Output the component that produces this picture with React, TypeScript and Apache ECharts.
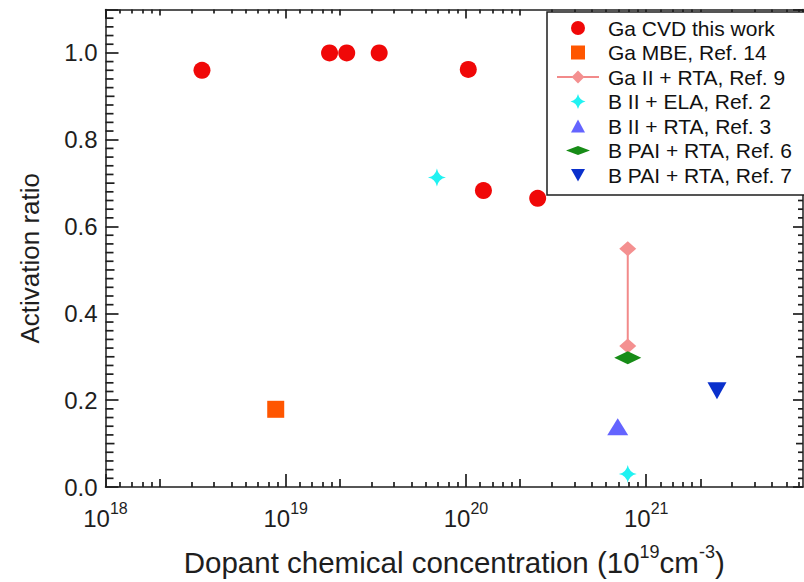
import React, { useEffect, useRef } from "react";
import * as echarts from "echarts";

// Ga CVD (this work)
const gaCvdX = [3.43e18, 1.75e19, 2.18e19, 3.3e19, 1.03e20, 1.25e20, 2.5e20];
const gaCvdY = [0.96, 1.0, 1.0, 1.0, 0.962, 0.683, 0.665];
// Ga MBE, Ref. 14
const gaMbeX = [8.8e18];
const gaMbeY = [0.179];
// Ga II + RTA, Ref. 9 (range)
const gaIiX = [7.9e20, 7.9e20];
const gaIiY = [0.549, 0.325];
// B II + ELA, Ref. 2
const bElaX = [6.9e19, 7.9e20];
const bElaY = [0.713, 0.03];
// B II + RTA, Ref. 3
const bIiRtaX = [6.95e20];
const bIiRtaY = [0.139];
// B PAI + RTA, Ref. 6
const bPai6X = [7.9e20];
const bPai6Y = [0.298];
// B PAI + RTA, Ref. 7
const bPai7X = [2.47e21];
const bPai7Y = [0.222];

const seriesNames = [
  "Ga CVD this work",
  "Ga MBE, Ref. 14",
  "Ga II + RTA, Ref. 9",
  "B II + ELA, Ref. 2",
  "B II + RTA, Ref. 3",
  "B PAI + RTA, Ref. 6",
  "B PAI + RTA, Ref. 7",
];

// axis ranges
const LOG_MIN = 18;
const LOG_MAX = 21.87;
const X_MIN = Math.pow(10, LOG_MIN);
const X_MAX = Math.pow(10, LOG_MAX);
const Y_MIN = 0;
const Y_MAX = 1.1;
const decades = [18, 19, 20, 21];
const minorMultipliers = [1.2, 1.4, 1.6, 1.8, 3, 4, 5, 6, 7, 8, 9];
const midMultipliers = [2];
// secondary marks on the vertical frame
const yMidTicks = [0.1, 0.3, 0.5, 0.7, 0.9];
const yMinorTicks = [
  0.02, 0.04, 0.06, 0.08, 0.12, 0.14, 0.16, 0.18, 0.22, 0.24, 0.26, 0.28,
  0.32, 0.34, 0.36, 0.38, 0.42, 0.44, 0.46, 0.48, 0.52, 0.54, 0.56, 0.58,
  0.62, 0.64, 0.66, 0.68, 0.72, 0.74, 0.76, 0.78, 0.82, 0.84, 0.86, 0.88,
  0.92, 0.94, 0.96, 0.98, 1.02, 1.04, 1.06, 1.08,
];

const FONT = "'Liberation Sans', Arial, Helvetica, sans-serif";
const INK = "#1e1e1e";

const pair = (xs: number[], ys: number[]) => xs.map((x, i) => [x, ys[i]]);

const logTicks = (mults: number[]) => {
  const out: number[] = [];
  decades.forEach((d) => {
    mults.forEach((m) => {
      const v = d + Math.log10(m);
      if (v < LOG_MAX) out.push(v);
    });
  });
  return out;
};

const STAR =
  "path://M10,0 Q11.6,8.4 20,10 Q11.6,11.6 10,20 Q8.4,11.6 0,10 Q8.4,8.4 10,0 Z";

// legend icons, laid out in a 42x16 box
const BOX = "M0,0 M42,16 ";
const iconCircle = "path://" + BOX + "M14,8 A7,7 0 1 1 28,8 A7,7 0 1 1 14,8 Z";
const iconSquare = "path://" + BOX + "M14,1 L28,1 L28,15 L14,15 Z";
const iconStar =
  "path://" + BOX + "M21,0.5 Q22.4,6.6 28.5,8 Q22.4,9.4 21,15.5 Q19.6,9.4 13.5,8 Q19.6,6.6 21,0.5 Z";
const iconUp = "path://" + BOX + "M21,1.5 L28,14.5 L14,14.5 Z";
const iconFlat = "path://" + BOX + "M9,8 L21,3.5 L33,8 L21,12.5 Z";
const iconDown = "path://" + BOX + "M14,2 L28,2 L21,14.5 Z";

const TICK_W = 1.7;
const tickLine = { color: INK, width: TICK_W };

// tick-only x axis in log10 units for the minor marks between decades
function decorX(position: string, values: number[], length: number) {
  return {
    type: "value",
    position,
    min: LOG_MIN,
    max: LOG_MAX,
    axisLine: { show: false, onZero: false },
    axisLabel: { show: false },
    splitLine: { show: false },
    axisTick: { show: true, inside: true, length, customValues: values, lineStyle: tickLine },
  };
}

export default function App() {
  const ref = useRef<HTMLDivElement>(null);

  useEffect(() => {
    if (!ref.current) return;
    const chart = echarts.init(ref.current, undefined, { renderer: "svg" });

    const xMinor = logTicks(minorMultipliers);
    const xMid = logTicks(midMultipliers);

    // [frame x, y, tick length, isRight] for the inward marks on both vertical frames
    const yTickRows: number[][] = [];
    [
      { vals: yMidTicks, left: 9, right: 7 },
      { vals: yMinorTicks, left: 8, right: 5 },
    ].forEach(({ vals, left, right }) => {
      vals.forEach((v) => {
        yTickRows.push([X_MIN * 1.0001, v, left, 0]);
        yTickRows.push([X_MAX, v, right, 1]);
      });
    });

    const option: any = {
      animation: false,
      backgroundColor: "#ffffff",
      textStyle: { fontFamily: FONT },
      grid: { left: 105.5, right: 1, top: 9.5, bottom: 94, containLabel: false },
      legend: {
        orient: "vertical",
        left: 547,
        top: 12,
        padding: [5.5, 14, 9.5, 9],
        itemWidth: 42,
        itemHeight: 16,
        itemGap: 3.5,
        backgroundColor: "#ffffff",
        borderColor: INK,
        borderWidth: 1.5,
        borderRadius: 0,
        z: 10,
        textStyle: { fontFamily: FONT, fontSize: 21, lineHeight: 21, color: "#111", padding: [0, 0, 0, 4] },
        data: [
          { name: seriesNames[0], icon: iconCircle },
          { name: seriesNames[1], icon: iconSquare },
          { name: seriesNames[2] },
          { name: seriesNames[3], icon: iconStar },
          { name: seriesNames[4], icon: iconUp },
          { name: seriesNames[5], icon: iconFlat },
          { name: seriesNames[6], icon: iconDown },
        ],
      },
      xAxis: [
        {
          type: "log",
          position: "bottom",
          min: X_MIN,
          max: X_MAX,
          logBase: 10,
          axisLine: { show: true, onZero: false, lineStyle: { color: INK, width: 1.5 } },
          axisTick: { show: true, inside: true, length: 13, lineStyle: tickLine },
          minorTick: { show: false },
          splitLine: { show: false },
          axisLabel: {
            margin: 13,
            showMaxLabel: false,
            formatter: (v: number) => {
              const l = Math.log10(v);
              const e = Math.round(l);
              if (Math.abs(l - e) > 1e-6) return "";
              return `{b|10}{s|${e}}`;
            },
            rich: {
              b: { fontFamily: FONT, fontSize: 24, color: INK, lineHeight: 30, verticalAlign: "bottom" },
              s: { fontFamily: FONT, fontSize: 16, color: INK, lineHeight: 16, verticalAlign: "top" },
            },
          },
          name: "{t|Dopant chemical concentration (10}{s|19}{t|cm}{s|-3}{t|)}",
          nameLocation: "middle",
          nameGap: 56,
          nameTextStyle: {
            rich: {
              t: { fontFamily: FONT, fontSize: 29.5, color: INK, lineHeight: 34, verticalAlign: "bottom" },
              s: { fontFamily: FONT, fontSize: 18, color: INK, lineHeight: 18, verticalAlign: "top" },
            },
          },
        },
        decorX("bottom", xMinor, 5),
        decorX("bottom", xMid, 8),
        {
          type: "log",
          position: "top",
          min: X_MIN,
          max: X_MAX,
          logBase: 10,
          axisLine: { show: true, onZero: false, lineStyle: { color: INK, width: 1.5 } },
          axisTick: { show: true, inside: true, length: 9, lineStyle: tickLine },
          axisLabel: { show: false },
          splitLine: { show: false },
        },
        decorX("top", xMinor, 4),
        decorX("top", xMid, 6),
      ],
      yAxis: [
        {
          type: "value",
          position: "left",
          min: Y_MIN,
          max: Y_MAX,
          interval: 0.2,
          axisLine: { show: true, onZero: false, lineStyle: { color: INK, width: 1.5 } },
          axisTick: { show: true, inside: true, length: 13, lineStyle: tickLine },
          splitLine: { show: false },
          axisLabel: {
            margin: 8,
            fontFamily: FONT,
            fontSize: 24,
            color: INK,
            formatter: (v: number) => (v > 1.05 ? "" : v.toFixed(1)),
          },
          name: "Activation ratio",
          nameLocation: "middle",
          nameGap: 63,
          nameRotate: 90,
          nameTextStyle: { fontFamily: FONT, fontSize: 26, color: INK, padding: [0, 20, 0, 0] },
        },
        {
          type: "value",
          position: "right",
          min: Y_MIN,
          max: Y_MAX,
          interval: 0.2,
          axisLine: { show: true, onZero: false, lineStyle: { color: INK, width: 1.5 } },
          axisTick: { show: true, inside: true, length: 10, lineStyle: tickLine },
          axisLabel: { show: false },
          splitLine: { show: false },
        },
      ],
      series: [
        {
          name: "frame ticks",
          type: "custom",
          xAxisIndex: 0,
          yAxisIndex: 0,
          silent: true,
          clip: false,
          z: 1,
          data: yTickRows,
          renderItem: (params: any, api: any) => {
            const p = api.coord([api.value(0), api.value(1)]);
            const len = api.value(2);
            const isRight = api.value(3) > 0.5;
            const x0 = isRight ? p[0] : params.coordSys.x;
            return {
              type: "line",
              shape: { x1: x0, y1: p[1], x2: isRight ? x0 - len : x0 + len, y2: p[1] },
              style: { stroke: INK, lineWidth: TICK_W },
            };
          },
        },
        {
          name: seriesNames[0],
          type: "scatter",
          symbol: "circle",
          symbolSize: 17,
          itemStyle: { color: "#f00808", opacity: 1 },
          data: pair(gaCvdX, gaCvdY),
          z: 3,
        },
        {
          name: seriesNames[1],
          type: "scatter",
          symbol: "rect",
          symbolSize: 17,
          itemStyle: { color: "#ff5600", opacity: 1 },
          data: pair(gaMbeX, gaMbeY),
        },
        {
          name: seriesNames[2],
          type: "line",
          symbol: "diamond",
          symbolSize: [17, 15],
          showSymbol: true,
          lineStyle: { color: "#f28a8a", width: 2 },
          itemStyle: { color: "#f49090", opacity: 1 },
          data: pair(gaIiX, gaIiY),
          z: 2,
        },
        {
          name: seriesNames[3],
          type: "scatter",
          symbol: STAR,
          symbolSize: 18,
          itemStyle: { color: "#20f2f2", opacity: 1 },
          data: pair(bElaX, bElaY),
        },
        {
          name: seriesNames[4],
          type: "scatter",
          symbol: "triangle",
          symbolSize: [21, 17],
          itemStyle: { color: "#6464ff", opacity: 1 },
          data: pair(bIiRtaX, bIiRtaY),
        },
        {
          name: seriesNames[5],
          type: "scatter",
          symbol: "diamond",
          symbolSize: [27, 13],
          itemStyle: { color: "#178c17", opacity: 1 },
          data: pair(bPai6X, bPai6Y),
          z: 3,
        },
        {
          name: seriesNames[6],
          type: "scatter",
          symbol: "triangle",
          symbolRotate: 180,
          symbolSize: [19, 17],
          itemStyle: { color: "#0a30cc", opacity: 1 },
          data: pair(bPai7X, bPai7Y),
        },
      ],
    };

    chart.setOption(option);
    return () => chart.dispose();
  }, []);

  return (
    <div
      ref={ref}
      style={{ position: "fixed", left: 0, top: 0, width: 804, height: 582, background: "#fff" }}
    />
  );
}
